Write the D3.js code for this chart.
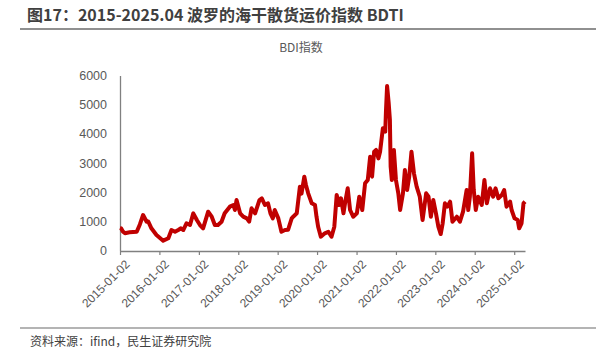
<!DOCTYPE html>
<html><head><meta charset="utf-8">
<script src="https://cdn.jsdelivr.net/npm/d3@7"></script>
<style>
body{margin:0;background:#fff;}
svg{display:block;}
</style></head>
<body><svg id="c" width="596" height="359"></svg>
<script>
const titleText = "图17：2015-2025.04 波罗的海干散货运价指数 BDTI";
const chartTitle = "BDI指数";
const sourceText = "资料来源：ifind，民生证券研究院";
const yTicks = [0,1000,2000,3000,4000,5000,6000];
const xTickLabels = ["2015-01-02","2016-01-02","2017-01-02","2018-01-02","2019-01-02","2020-01-02","2021-01-02","2022-01-02","2023-01-02","2024-01-02","2025-01-02"];
const dates = ["2015-01-02","2015-01-12","2015-01-30","2015-02-17","2015-04-01","2015-06-06","2015-07-05","2015-08-04","2015-09-06","2015-09-21","2015-10-20","2015-12-06",
"2016-02-06","2016-03-25","2016-04-23","2016-05-26","2016-06-25","2016-07-20","2016-08-11","2016-09-09","2016-10-12","2016-11-11","2016-12-14",
"2017-01-12","2017-02-10","2017-03-29","2017-05-01","2017-05-30","2017-06-28","2017-07-31","2017-08-29","2017-10-16","2017-11-18","2017-12-02","2017-12-17",
"2018-01-19","2018-02-17","2018-03-22","2018-04-13","2018-05-05","2018-06-07","2018-07-17","2018-08-08","2018-09-06","2018-10-05","2018-10-27","2018-11-18","2018-12-06",
"2019-01-08","2019-02-06","2019-03-11","2019-04-09","2019-05-12","2019-05-26","2019-06-28","2019-07-27","2019-08-11","2019-09-06","2019-09-21","2019-10-12","2019-11-14","2019-12-14","2019-12-28",
"2020-01-12","2020-02-06","2020-03-14","2020-04-16","2020-05-15","2020-06-10","2020-07-02","2020-07-24","2020-08-11","2020-09-03","2020-09-17","2020-10-12","2020-11-03","2020-12-02",
"2021-01-05","2021-01-27","2021-02-24","2021-03-22","2021-04-16","2021-05-08","2021-05-26","2021-06-14","2021-07-02","2021-07-24","2021-08-08","2021-09-03","2021-09-25","2021-10-02","2021-10-12","2021-10-27","2021-11-07","2021-11-14","2021-11-25","2021-12-14",
"2022-01-02","2022-01-24","2022-02-10","2022-03-08","2022-03-26","2022-04-16","2022-05-05","2022-05-26","2022-06-18","2022-07-13","2022-08-11","2022-09-06","2022-10-09","2022-10-31","2022-11-22","2022-12-14",
"2023-01-08","2023-01-30","2023-02-21","2023-03-11","2023-04-01","2023-04-23","2023-05-19","2023-06-10","2023-07-20","2023-08-18","2023-09-16","2023-10-19","2023-11-03","2023-11-18","2023-12-09","2023-12-24",
"2024-01-12","2024-02-03","2024-03-07","2024-04-01","2024-04-23","2024-05-23","2024-06-21","2024-07-13","2024-08-08","2024-09-09","2024-10-01","2024-10-23","2024-11-25","2024-12-09",
"2025-01-05","2025-02-03","2025-02-17","2025-03-11","2025-03-29","2025-04-12"];
const values = [780,767,650,600,630,650,900,1222,993,1000,767,538,
343,425,709,650,709,767,709,938,880,1280,1051,
880,767,1336,1165,880,880,993,1280,1508,1565,1394,1736,
1280,1165,1108,993,1451,1280,1736,1794,1565,1622,1280,1108,1394,
1108,650,709,720,1108,1165,1280,2192,1955,2535,2250,1965,1622,1565,1165,
822,480,595,650,480,822,1908,1565,1794,1280,1622,2136,1394,1165,
1280,1850,1394,2306,2421,3220,2535,3391,3449,3163,3391,4192,4076,4818,5640,5048,4478,2877,2421,3449,
2421,1965,1394,1965,2764,2079,2535,3391,2650,2192,1850,1051,1965,1850,1165,1736,
1280,822,570,937,1622,1508,1680,993,1165,993,1336,2079,1394,1850,3335,2079,
1394,1850,1565,2421,1622,2136,1850,2136,1794,1908,2079,1508,1680,1394,
1108,1051,767,938,1622,1680];

const parse = d3.timeParse("%Y-%m-%d");
const data = dates.map((d,i)=>({t:parse(d), v:values[i]}));
const svg = d3.select("#c");
const gray = "#595959";

// header
svg.append("text").attr("x",27).attr("y",21).text(titleText)
  .attr("font-family","'Noto Sans CJK SC'").attr("font-weight","bold").attr("font-size",16).attr("fill","#404040");
svg.append("line").attr("x1",20).attr("x2",596).attr("y1",29).attr("y2",29).attr("stroke","#6b6b6b").attr("stroke-width",1.5);

svg.append("text").attr("x",301).attr("y",52).attr("text-anchor","middle").text(chartTitle)
  .attr("font-family","'Noto Sans CJK SC'").attr("font-size",12).attr("fill",gray);

const x = d3.scaleTime().domain([parse("2015-01-02"), parse("2025-04-12")]).range([120, 525]);
const y = d3.scaleLinear().domain([0,6000]).range([250.7, 75.5]);

// y axis
const ya = svg.append("g").attr("transform","translate(120,0)")
  .call(d3.axisLeft(y).tickValues(yTicks).tickSize(0).tickPadding(13).tickFormat(d3.format("d")));
ya.select(".domain").attr("stroke","#808080").attr("stroke-width",1.3);
ya.selectAll("text").attr("font-family","'Liberation Sans'").attr("font-size",12.5).attr("fill",gray);

// x axis
const xa = svg.append("g").attr("transform","translate(0,251)")
  .call(d3.axisBottom(x).tickValues(xTickLabels.map(parse)).tickSize(4).tickSizeOuter(0).tickFormat(d3.timeFormat("%Y-%m-%d")));
xa.select(".domain").attr("stroke","#808080").attr("stroke-width",1.3);
xa.selectAll(".tick line").attr("stroke","#808080").attr("stroke-width",1.2);
xa.selectAll("text").attr("font-family","'Liberation Sans'").attr("font-size",12).attr("fill",gray)
  .attr("text-anchor","end").attr("dy",0).attr("transform","translate(5,9) rotate(-45)");

// line
svg.append("path").datum(data)
  .attr("d", d3.line().x(d=>x(d.t)).y(d=>y(d.v)))
  .attr("fill","none").attr("stroke","#C00000").attr("stroke-width",4).attr("stroke-linejoin","round");

// footer
svg.append("line").attr("x1",20).attr("x2",596).attr("y1",328).attr("y2",328).attr("stroke","#6b6b6b").attr("stroke-width",1.2);
svg.append("text").attr("x",30).attr("y",346).text(sourceText)
  .attr("font-family","'Noto Sans CJK SC'").attr("font-size",12).attr("fill","#404040");
</script></body></html>
